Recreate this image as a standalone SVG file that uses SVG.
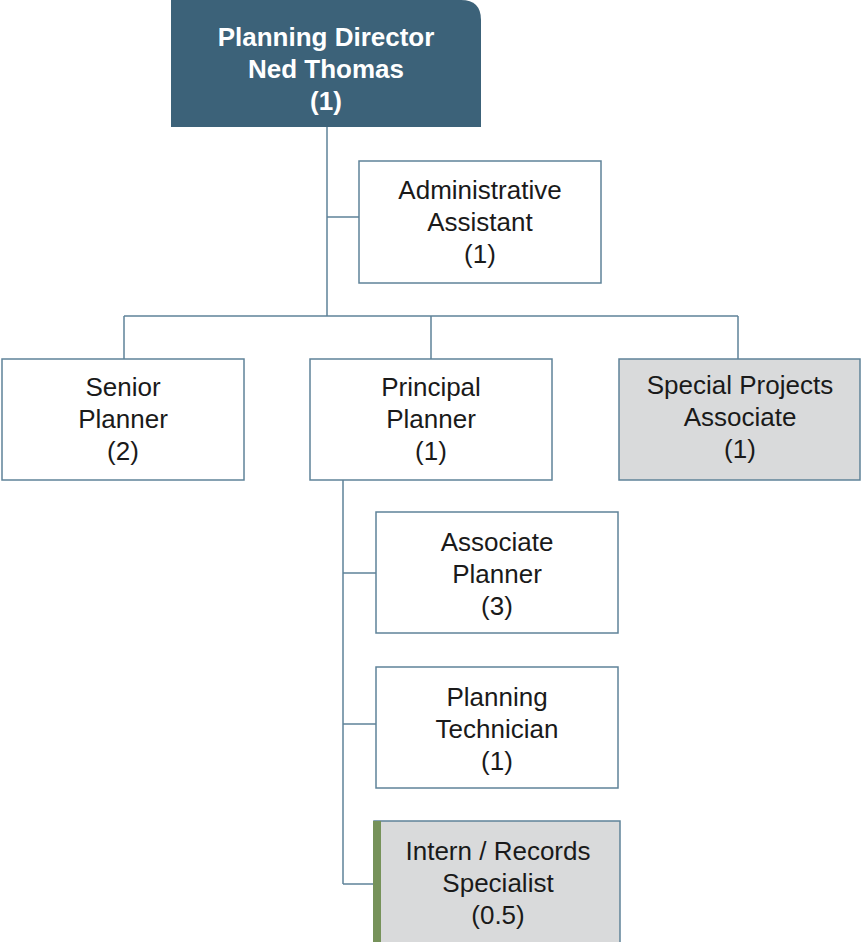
<svg xmlns="http://www.w3.org/2000/svg" width="861" height="942" viewBox="0 0 861 942">
<style>
.box{fill:#ffffff;stroke:#5f8399;stroke-width:1.5}
.grey{fill:#d9dadb;stroke:#5f8399;stroke-width:1.5}
.t{font-family:"Liberation Sans",Arial,sans-serif;font-size:26px;fill:#1a1a1a;text-anchor:middle}
.tb{font-family:"Liberation Sans",Arial,sans-serif;font-size:26px;font-weight:bold;fill:#ffffff;text-anchor:middle}
.c{fill:none;stroke:#5f8399;stroke-width:1.5}
</style>
<rect width="861" height="942" fill="#ffffff"/>
<g id="connectors">
<path class="c" d="M327 127V316M327 217H359M124 316H738M124 316V359M431 316V359M738 316V359M343 480V884M343 573H376M343 724H376M343 884H373"/>
</g>
<g id="director">
<path d="M171 0H461Q481 0 481 20V127H171Z" fill="#3c6279"/>
<text class="tb" x="326" y="46">Planning Director</text>
<text class="tb" x="326" y="78">Ned Thomas</text>
<text class="tb" x="326" y="110">(1)</text>
</g>
<g id="admin">
<rect class="box" x="359" y="161" width="242" height="122"/>
<text class="t" x="480" y="199">Administrative</text>
<text class="t" x="480" y="231">Assistant</text>
<text class="t" x="480" y="263">(1)</text>
</g>
<g id="senior">
<rect class="box" x="2" y="359" width="242" height="121"/>
<text class="t" x="123" y="396">Senior</text>
<text class="t" x="123" y="428">Planner</text>
<text class="t" x="123" y="460">(2)</text>
</g>
<g id="principal">
<rect class="box" x="310" y="359" width="242" height="121"/>
<text class="t" x="431" y="396">Principal</text>
<text class="t" x="431" y="428">Planner</text>
<text class="t" x="431" y="460">(1)</text>
</g>
<g id="special">
<rect class="grey" x="619" y="359" width="241" height="121"/>
<text class="t" x="740" y="394">Special Projects</text>
<text class="t" x="740" y="426">Associate</text>
<text class="t" x="740" y="458">(1)</text>
</g>
<g id="associate">
<rect class="box" x="376" y="512" width="242" height="121"/>
<text class="t" x="497" y="551">Associate</text>
<text class="t" x="497" y="583">Planner</text>
<text class="t" x="497" y="615">(3)</text>
</g>
<g id="technician">
<rect class="box" x="376" y="667" width="242" height="121"/>
<text class="t" x="497" y="706">Planning</text>
<text class="t" x="497" y="738">Technician</text>
<text class="t" x="497" y="770">(1)</text>
</g>
<g id="intern">
<rect class="grey" x="374" y="821" width="246" height="125"/>
<rect x="373" y="821" width="8" height="121" fill="#76925a"/>
<text class="t" x="498" y="860">Intern / Records</text>
<text class="t" x="498" y="892">Specialist</text>
<text class="t" x="498" y="924">(0.5)</text>
</g>
</svg>
